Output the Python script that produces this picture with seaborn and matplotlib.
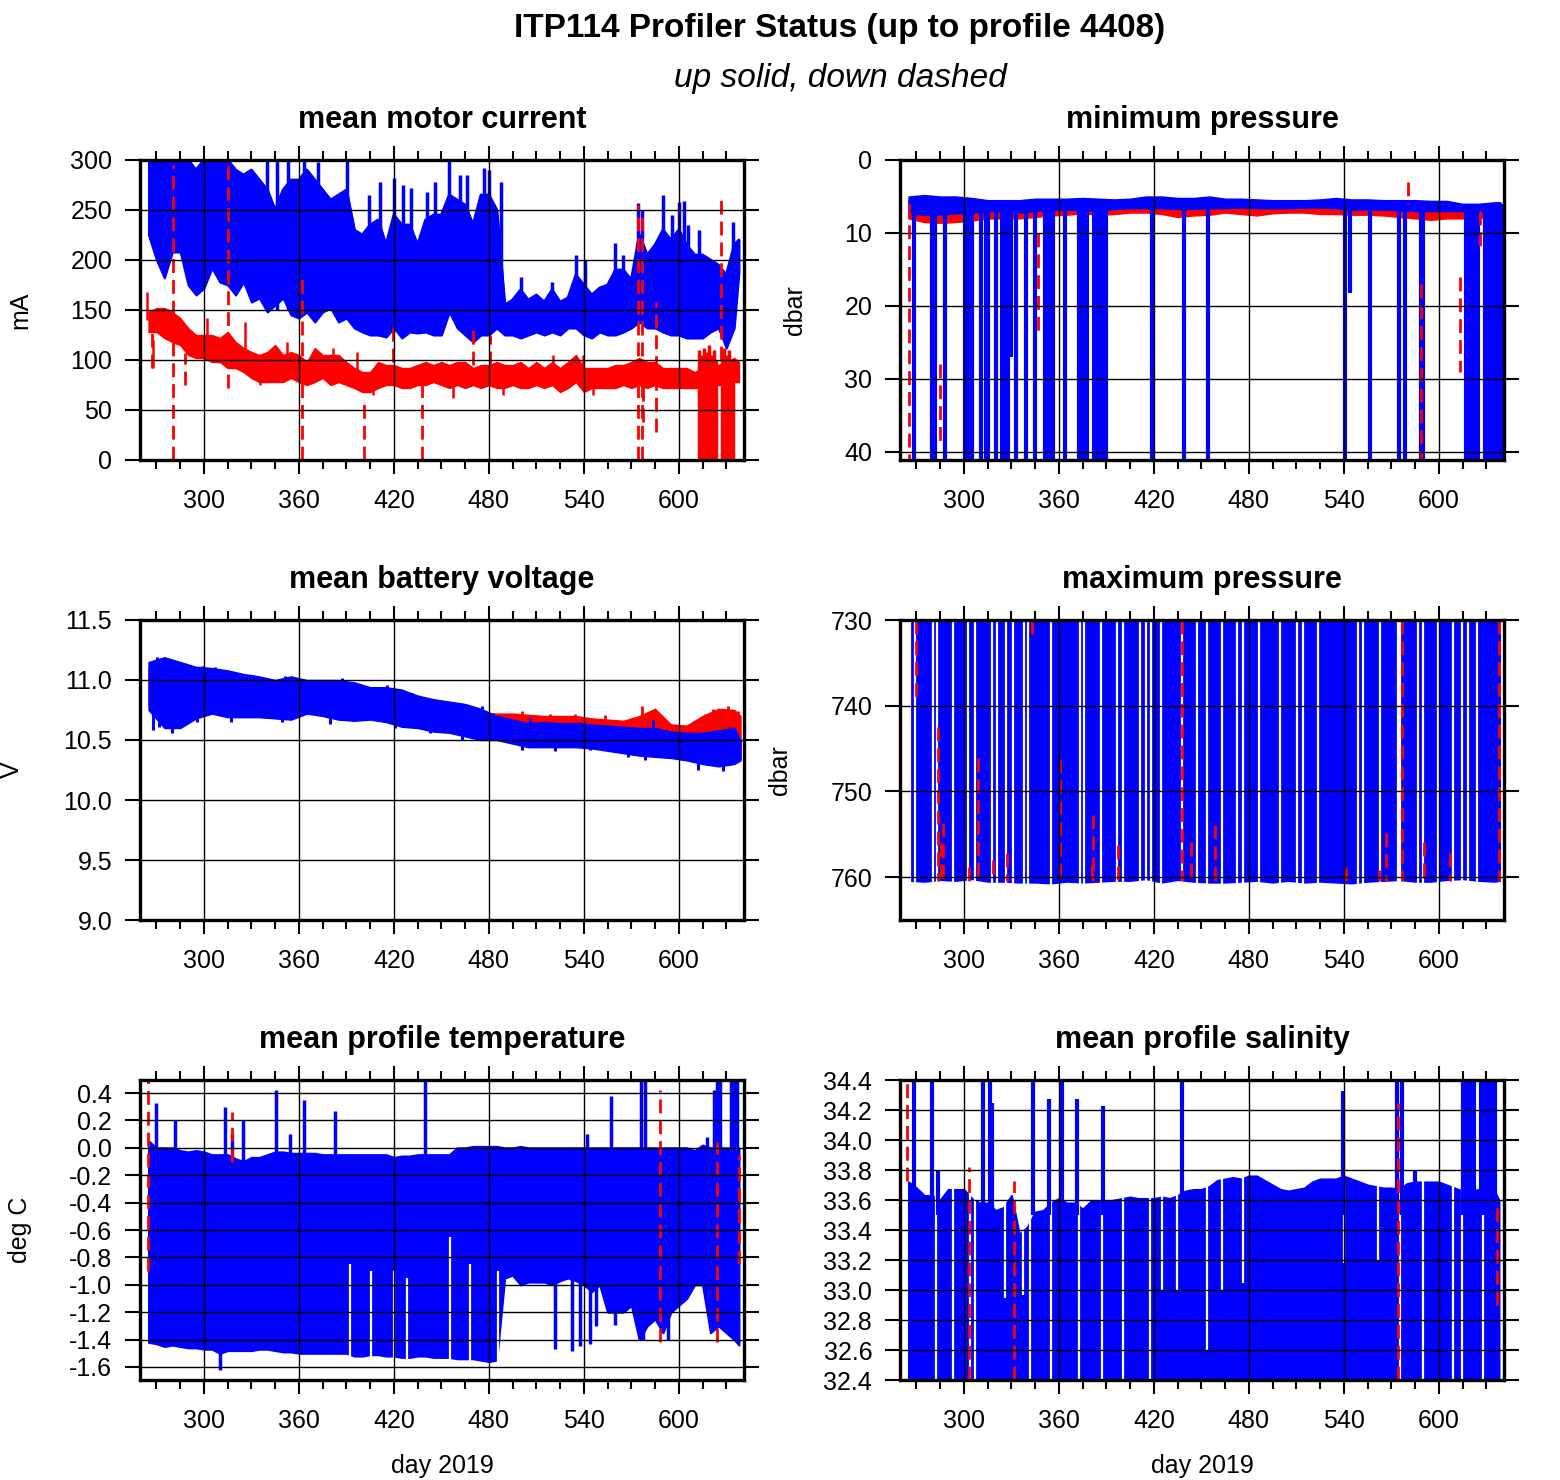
import matplotlib
matplotlib.use('Agg')
import matplotlib.pyplot as plt
import seaborn as sns
from matplotlib.ticker import MultipleLocator, FixedLocator, FormatStrFormatter

# ---------------- DATA ----------------
# sample days for the 5-day envelopes
days5 = [265, 270, 275, 280, 285, 290, 295, 300, 305, 310,
         315, 320, 325, 330, 335, 340, 345, 350, 355, 360,
         365, 370, 375, 380, 385, 390, 395, 400, 405, 410,
         415, 420, 425, 430, 435, 440, 445, 450, 455, 460,
         465, 470, 475, 480, 485, 490, 495, 500, 505, 510,
         515, 520, 525, 530, 535, 540, 545, 550, 555, 560,
         565, 570, 575, 580, 585, 590, 595, 600, 605, 610,
         615, 620, 625, 630, 635, 638]
# sample days for the 10-day envelopes
days10 = [265, 275, 285, 295, 305, 315, 325, 335, 345, 355,
          365, 375, 385, 395, 405, 415, 425, 435, 445, 455,
          465, 475, 485, 495, 505, 515, 525, 535, 545, 555,
          565, 575, 585, 595, 605, 615, 625, 635, 639]

# mean motor current (mA), up = blue band, down = red band
motor_up_hi = [300, 300, 300, 300, 300, 300, 290, 300, 300, 300,
               300, 290, 285, 290, 280, 270, 250, 270, 280, 280,
               290, 280, 270, 260, 265, 270, 230, 225, 235, 240,
               215, 245, 235, 235, 215, 240, 245, 245, 265, 260,
               255, 235, 265, 265, 250, 155, 160, 170, 160, 165,
               158, 170, 158, 162, 185, 175, 165, 172, 175, 190,
               190, 180, 225, 205, 215, 230, 220, 230, 215, 205,
               205, 200, 195, 185, 215, 220]
motor_up_lo = [225, 200, 182, 208, 208, 175, 165, 172, 192, 178,
               175, 165, 178, 158, 162, 148, 155, 162, 145, 142,
               148, 138, 148, 152, 138, 142, 132, 128, 125, 125,
               123, 132, 122, 128, 127, 128, 125, 125, 148, 132,
               125, 118, 125, 125, 132, 125, 125, 122, 125, 128,
               125, 128, 125, 132, 132, 125, 122, 128, 125, 125,
               128, 132, 138, 132, 132, 128, 125, 125, 122, 122,
               122, 128, 132, 112, 132, 188]
motor_dn_hi = [148, 152, 152, 148, 142, 132, 125, 125, 125, 122,
               128, 118, 112, 108, 105, 108, 115, 105, 108, 105,
               98, 112, 105, 105, 105, 98, 92, 88, 88, 98,
               95, 95, 92, 92, 95, 98, 95, 98, 95, 98,
               98, 92, 95, 95, 98, 95, 95, 98, 92, 98,
               92, 98, 92, 98, 105, 92, 92, 92, 92, 95,
               95, 98, 102, 98, 98, 92, 92, 92, 92, 88,
               92, 95, 95, 98, 102, 98]
motor_dn_lo = [128, 128, 122, 118, 115, 105, 102, 102, 98, 98,
               92, 92, 88, 82, 78, 78, 78, 78, 82, 78,
               75, 78, 82, 75, 78, 75, 72, 68, 68, 72,
               75, 75, 72, 72, 75, 75, 78, 75, 72, 75,
               72, 75, 72, 75, 72, 72, 75, 72, 72, 75,
               72, 75, 68, 72, 78, 68, 72, 72, 72, 72,
               75, 72, 75, 72, 75, 72, 72, 72, 72, 72,
               72, 72, 75, 75, 78, 78]
motor_up_spike_days = [340, 346, 353, 363, 372, 390.6, 404, 411, 420, 426,
                       431, 441, 446, 455, 462, 466, 477, 480, 487.5, 500,
                       520, 535, 541, 560, 565, 574, 577, 590, 596, 600,
                       603, 606, 613, 634]
motor_up_spike_tops = [300, 300, 300, 300, 298, 300, 265, 278, 282, 275,
                       272, 268, 278, 300, 285, 285, 292, 290, 278, 183,
                       178, 205, 200, 217, 205, 257, 250, 265, 245, 258,
                       259, 235, 230, 238]
motor_dn_spike_days = [267, 280.2, 288, 315.4, 362.1, 401.3, 419.6, 437.5,
                       470.1, 481, 574.2, 576.5, 577.5, 585.5, 626.4]
motor_dn_spike_lo = [92, 0, 75, 72, 0, 0, 98, 0, 95, 95, 0, 0, 38, 28, 100]
motor_dn_spike_hi = [140, 295, 107, 300, 185, 62, 138, 92, 132, 125, 255, 248, 100, 158, 262]
motor_dn_block_days = [613, 614.5, 616, 617.5, 619, 620.5, 622, 623.5,
                       627, 628.5, 630, 631.5, 633, 634.5]
motor_dn_block_hi = [110, 105, 112, 108, 115, 105, 110, 100, 108, 112, 105, 110, 100, 95]
# short noise excursions of the down-profile current
motor_dn_noise_days = [263.8, 268, 297.5, 301.7, 325.9, 335.4, 352.2, 381.7, 396.4, 407,
                       457.5, 489, 520.7, 539.6, 545.9]
motor_dn_noise_lo = [140, 92, 102, 120, 110, 75, 95, 92, 90, 65,
                     62, 65, 85, 85, 65]
motor_dn_noise_hi = [168, 120, 120, 142, 138, 95, 118, 112, 108, 85,
                     85, 85, 105, 105, 85]

# minimum pressure (dbar)
minp_up_top = [5.0, 4.8, 5.0, 5.0, 5.2, 5.5, 5.5, 5.5, 5.3, 5.3,
               5.3, 5.2, 5.3, 5.4, 5.3, 5.0, 5.0, 5.2, 5.2, 5.0,
               5.3, 5.3, 5.4, 5.5, 5.5, 5.5, 5.4, 5.2, 5.4, 5.4,
               5.5, 5.5, 5.5, 5.6, 5.6, 6.0, 6.0, 5.8, 5.8]
minp_up_bot = [7.3, 7.5, 7.5, 7.3, 7.2, 7.0, 7.0, 7.2, 7.0, 6.8,
               6.8, 6.9, 6.9, 6.7, 6.6, 6.6, 6.6, 6.7, 6.7, 6.6,
               6.6, 6.5, 6.6, 6.6, 6.6, 6.5, 6.5, 6.6, 6.8, 6.8,
               6.8, 6.9, 7.0, 7.0, 7.0, 7.0, 7.2, 7.0, 7.0]
minp_dn_top = [5.5, 5.5, 5.6, 5.8, 5.8, 6.0, 6.0, 6.0, 5.8, 5.8,
               5.8, 5.8, 5.8, 5.8, 5.8, 5.6, 5.6, 5.8, 5.8, 5.8,
               5.8, 5.8, 5.8, 5.8, 5.8, 5.8, 5.8, 5.8, 5.8, 5.8,
               5.8, 5.8, 6.0, 6.0, 6.0, 6.5, 6.5, 6.5, 6.5]
minp_dn_bot = [8.0, 8.5, 8.6, 8.5, 8.3, 8.0, 8.0, 8.0, 7.8, 7.6,
               7.5, 7.3, 7.5, 7.4, 7.2, 7.2, 7.4, 7.8, 7.6, 7.5,
               7.2, 7.4, 7.6, 7.3, 7.2, 7.2, 7.4, 7.4, 7.5, 7.5,
               7.6, 7.8, 8.0, 8.2, 8.0, 8.0, 8.0, 7.6, 7.6]
minp_up_spike_days = [268.4, 280.1, 281.7, 288.0, 300.6, 301.8, 303.0, 304.2, 305.4, 310.5,
                      313.7, 315.3, 320.0, 323.8, 325.0, 326.3, 327.9, 330.0, 332.6, 338.9,
                      345.2, 351.5, 352.7, 353.9, 355.1, 356.3, 363.6, 373.0, 374.2, 375.3,
                      377.6, 382.0, 384.8, 386.0, 387.2, 388.4, 389.6, 419.0, 439.0, 454.5,
                      540.8, 543.9, 556.6, 574.9, 578.7, 589.0, 590.2, 617.3, 618.5, 619.7,
                      620.9, 622.1, 623.3, 624.5, 629.3, 631.9, 633.1, 634.3, 635.5, 636.7,
                      637.9, 639.1]
minp_up_spike_depth = [41, 41, 41, 41, 41, 41, 30.5, 41, 41, 41,
                       41, 41, 41, 41, 41, 41, 41, 27, 41, 41,
                       41, 41, 41, 41, 41, 41, 41, 41, 41, 41,
                       41, 41, 41, 41, 41, 41, 41, 41, 41, 41,
                       41, 18.2, 41, 41, 41, 41, 41, 41, 41, 41,
                       41, 41, 41, 41, 41, 41, 41, 41, 41, 41,
                       41, 41]
minp_dn_spike_days = [265.2, 284.9, 346.8, 580.6, 588.8, 613.4, 626.0]
minp_dn_spike_top = [6, 28, 10, 3, 17, 16, 7]
minp_dn_spike_bot = [41.1, 39, 23.5, 6, 41.1, 29, 12]

# mean battery voltage (V)
batt_up_hi = [11.15, 11.19, 11.15, 11.11, 11.10, 11.08, 11.05, 11.03, 11.00, 11.03,
              11.00, 11.00, 11.00, 10.98, 10.94, 10.94, 10.92, 10.87, 10.84, 10.82,
              10.80, 10.76, 10.70, 10.67, 10.64, 10.65, 10.64, 10.64, 10.63, 10.62,
              10.61, 10.60, 10.60, 10.57, 10.56, 10.56, 10.58, 10.60, 10.50]
batt_up_lo = [10.75, 10.60, 10.60, 10.68, 10.72, 10.69, 10.69, 10.69, 10.68, 10.67,
              10.72, 10.70, 10.67, 10.66, 10.67, 10.65, 10.61, 10.60, 10.57, 10.56,
              10.53, 10.50, 10.50, 10.47, 10.44, 10.44, 10.44, 10.44, 10.43, 10.41,
              10.39, 10.37, 10.36, 10.35, 10.33, 10.30, 10.28, 10.30, 10.33]
batt_dn_hi = [11.10, 11.10, 11.08, 11.06, 11.05, 11.02, 11.00, 10.98, 10.98, 10.98,
              10.98, 10.96, 10.95, 10.94, 10.92, 10.90, 10.88, 10.84, 10.80, 10.78,
              10.76, 10.73, 10.72, 10.72, 10.71, 10.70, 10.70, 10.70, 10.68, 10.67,
              10.66, 10.70, 10.76, 10.63, 10.62, 10.70, 10.76, 10.75, 10.70]
batt_dn_lo = [10.80, 10.70, 10.70, 10.72, 10.75, 10.72, 10.72, 10.72, 10.72, 10.70,
              10.74, 10.72, 10.70, 10.70, 10.70, 10.68, 10.64, 10.62, 10.60, 10.58,
              10.56, 10.55, 10.55, 10.55, 10.55, 10.54, 10.54, 10.53, 10.52, 10.50,
              10.48, 10.46, 10.45, 10.44, 10.43, 10.42, 10.40, 10.38, 10.35]
# single-profile excursions of the battery voltage
batt_up_low_days = [267.5, 271.6, 280.1, 295.9, 317.0, 349.6, 379.6, 420.7, 442.8,
                    463.3, 501.2, 521.8, 543.9, 567.6, 578.7, 611.9, 627.7]
batt_up_low_vals = [10.58, 10.61, 10.56, 10.65, 10.65, 10.65, 10.63, 10.60, 10.56,
                    10.50, 10.42, 10.41, 10.42, 10.36, 10.33, 10.25, 10.24]
batt_up_high_days = [270.6, 278.5, 299.0, 306.9, 330.6, 351.2, 387.5, 415.9,
                     431.6, 458.5, 475.9, 505.9, 537.6, 583.4, 632.4]
batt_up_high_vals = [11.19, 11.17, 11.12, 11.11, 11.04, 11.03, 11.02, 10.96,
                     10.89, 10.81, 10.78, 10.68, 10.65, 10.67, 10.61]
batt_dn_high_days = [501.2, 518.6, 534.4, 553.3, 577.0, 616.6, 621.4, 630.8, 637.1]
batt_dn_high_vals = [10.74, 10.72, 10.72, 10.71, 10.78, 10.72, 10.76, 10.78, 10.74]

# maximum pressure (dbar); the shallow half of the profiles lies above 730
maxp_up_bot = [760.5, 760.6, 760.4, 760.5, 760.3, 760.6, 760.6, 760.7, 760.7, 760.8,
               760.6, 760.7, 760.6, 760.5, 760.5, 760.3, 760.7, 760.4, 760.6, 760.7,
               760.7, 760.6, 760.5, 760.7, 760.5, 760.7, 760.6, 760.7, 760.8, 760.6,
               760.5, 760.4, 760.6, 760.6, 760.4, 760.3, 760.5, 760.6, 760.5]
maxp_gap_days = [265.9, 269.0, 280.6, 282.7, 293.2, 302.7, 306.9, 317.5, 320.6, 326.5,
                 331.2, 338.1, 340.6, 355.0, 373.3, 376.0, 386.5, 396.5, 400.6, 411.2,
                 414.8, 418.1, 424.4, 437.5, 447.0, 453.3, 462.8, 472.7, 476.5, 486.6,
                 499.6, 510.6, 514.3, 523.8, 548.7, 552.2, 562.8, 574.0, 575.5, 587.0,
                 590.2, 599.6, 609.1, 614.4, 618.6, 623.9]
maxp_dn_days = [269.7, 283.5, 285.5, 286.6, 303.4, 308.9, 318.5, 327.4, 342.8, 360.7,
                380.9, 381.8, 397.6, 437.5, 443.4, 458.6, 541.3, 562.4, 566.6, 576.7,
                590.9, 607.1, 637.8]
maxp_dn_top = [730, 742.5, 756, 753.7, 758.8, 746.1, 758, 757.2, 730, 746.2,
               758.6, 752.8, 756.3, 730, 755.9, 753.9, 758.9, 759.2, 754.8, 730,
               755.9, 757.2, 730]
maxp_dn_bot = [739, 760.5, 760.5, 760.5, 760.5, 760.5, 760.5, 760.5, 732.3, 760.5,
               760.5, 760.5, 760.5, 760.5, 760.5, 760.5, 760.5, 760.5, 760.5, 760.5,
               760.5, 760.5, 760.5]

# mean profile temperature (deg C)
temp_up_top = [0.05, 0.00, 0.00, 0.00, -0.02, -0.03, -0.02, -0.03, -0.05, -0.05,
               -0.05, -0.08, -0.10, -0.07, -0.07, -0.05, -0.03, -0.03, -0.04, -0.04,
               -0.04, -0.04, -0.05, -0.05, -0.05, -0.05, -0.05, -0.05, -0.05, -0.05,
               -0.05, -0.07, -0.06, -0.06, -0.05, -0.05, -0.05, -0.05, -0.05, 0.00,
               0.00, 0.01, 0.01, 0.01, 0.01, 0.00, 0.00, 0.01, 0.00, 0.00,
               0.00, 0.00, 0.00, 0.00, 0.00, 0.00, 0.00, 0.00, 0.00, 0.00,
               0.00, 0.00, 0.00, 0.00, 0.00, 0.00, 0.00, 0.00, 0.00, -0.02,
               0.02, 0.00, 0.00, 0.00, 0.00, 0.00]
temp_up_bot = [-1.42, -1.43, -1.45, -1.44, -1.45, -1.46, -1.46, -1.47, -1.47, -1.50,
               -1.48, -1.48, -1.48, -1.48, -1.47, -1.47, -1.48, -1.49, -1.49, -1.50,
               -1.50, -1.50, -1.50, -1.50, -1.50, -1.50, -1.52, -1.52, -1.51, -1.51,
               -1.52, -1.52, -1.53, -1.53, -1.52, -1.52, -1.53, -1.53, -1.53, -1.54,
               -1.54, -1.54, -1.55, -1.56, -1.55, -0.95, -0.93, -1.00, -0.98, -0.98,
               -0.98, -1.00, -0.97, -0.95, -0.97, -1.00, -1.05, -1.00, -1.20, -1.20,
               -1.20, -1.15, -1.40, -1.30, -1.25, -1.35, -1.20, -1.15, -1.10, -1.00,
               -1.00, -1.35, -1.30, -1.35, -1.40, -1.44]
temp_up_spike_days = [269.6, 281.6, 313.2, 317.6, 324.6, 345.5, 354.3, 363.5, 382.7, 439.6,
                      541.9, 557.0, 576.0, 578.5, 617.7, 622.5, 624.0, 626.0, 633.0, 635.0,
                      637.0]
temp_up_spike_tops = [0.33, 0.20, 0.30, 0.10, 0.20, 0.42, 0.10, 0.35, 0.27, 0.50,
                      0.10, 0.38, 0.50, 0.50, 0.08, 0.42, 0.50, 0.50, 0.50, 0.50,
                      0.50]
temp_up_low_days = [310.0, 521.8, 532.8, 537.6, 543.9, 548.0, 560.0, 575.5, 577.5, 593.0]
temp_up_low_vals = [-1.62, -1.47, -1.48, -1.45, -1.43, -1.30, -1.29, -1.40, -1.40, -1.40]
temp_gap_days = [392.5, 405.5, 420.0, 428.0, 455.5, 468.0, 486.0]
temp_gap_tops = [-0.85, -0.90, -0.90, -0.95, -0.65, -0.85, -0.90]
temp_dn_days = [264.6, 317.6, 588.2, 624.0, 638.0]
temp_dn_lo = [-0.90, -0.10, -1.42, -1.42, -0.85]
temp_dn_hi = [0.50, 0.26, 0.42, 0.04, -0.05]

# mean profile salinity; the deep half of the band lies below 32.4
sal_up_top = [33.72, 33.68, 33.63, 33.63, 33.60, 33.67, 33.67, 33.67, 33.61, 33.58,
              33.58, 33.53, 33.55, 33.63, 33.37, 33.42, 33.52, 33.53, 33.58, 33.61,
              33.58, 33.58, 33.54, 33.59, 33.59, 33.59, 33.60, 33.61, 33.62, 33.61,
              33.61, 33.61, 33.62, 33.61, 33.63, 33.66, 33.67, 33.67, 33.69, 33.73,
              33.74, 33.75, 33.74, 33.76, 33.76, 33.73, 33.70, 33.67, 33.66, 33.67,
              33.68, 33.72, 33.74, 33.74, 33.74, 33.76, 33.74, 33.72, 33.70, 33.69,
              33.68, 33.68, 33.67, 33.71, 33.72, 33.72, 33.72, 33.72, 33.70, 33.68,
              33.66, 33.66, 33.67, 33.66, 33.66, 33.60]
sal_up_spike_days = [268.4, 280.0, 283.8, 312.2, 316.4, 317.9, 343.8, 353.9, 361.7, 371.2,
                     388.0, 437.5, 539.2, 573.3, 576.5, 584.9]
sal_up_spike_tops = [34.4, 34.4, 33.8, 34.4, 34.4, 34.25, 34.4, 34.27, 34.4, 34.27,
                     34.23, 34.4, 34.33, 34.4, 34.4, 33.8]
sal_block_days = [615.5, 616.5, 617.5, 618.5, 619.5, 620.5, 621.5, 622.2,
                  626.8, 627.8, 628.8, 629.8, 630.8, 631.8, 632.8, 633.8, 634.8, 635.5]
sal_block_tops = [34.4, 34.4, 34.4, 34.4, 34.4, 34.4, 34.4, 34.4,
                  34.4, 34.4, 34.4, 34.4, 34.4, 34.4, 34.4, 34.4, 34.4, 34.4]
sal_gap_days = [282.1, 293.3, 303.6, 306.9, 325.9, 337.5, 341.7, 355.0, 372.9, 387.0,
                400.6, 417.5, 424.9, 434.4, 453.7, 462.8, 476.5, 539.8, 561.7, 575.4,
                589.8, 609.1, 614.4, 628.0]
sal_gap_lows = [32.4, 32.4, 32.4, 32.4, 32.95, 32.97, 32.4, 32.4, 32.4, 32.4,
                32.4, 32.4, 33.0, 33.0, 32.6, 33.0, 33.05, 33.18, 33.2, 32.4,
                32.4, 32.4, 32.4, 32.4]
sal_dn_days = [264.0, 303.0, 331.5, 574.5, 636.9]
sal_dn_lo = [33.73, 32.4, 32.4, 32.4, 32.9]
sal_dn_hi = [34.4, 33.82, 33.73, 34.25, 33.6]

for name, arr in [('motor_up_hi', motor_up_hi), ('motor_up_lo', motor_up_lo),
                  ('motor_dn_hi', motor_dn_hi), ('motor_dn_lo', motor_dn_lo),
                  ('temp_up_top', temp_up_top), ('temp_up_bot', temp_up_bot),
                  ('sal_up_top', sal_up_top)]:
    assert len(arr) == len(days5), name
for name, arr in [('minp_up_top', minp_up_top), ('minp_up_bot', minp_up_bot),
                  ('minp_dn_top', minp_dn_top), ('minp_dn_bot', minp_dn_bot),
                  ('batt_up_hi', batt_up_hi), ('batt_up_lo', batt_up_lo),
                  ('batt_dn_hi', batt_dn_hi), ('batt_dn_lo', batt_dn_lo),
                  ('maxp_up_bot', maxp_up_bot)]:
    assert len(arr) == len(days10), name

BLUE = '#0000ff'
RED = '#ff0000'
DASH = (0, (5, 2.5))

# ---------------- STYLE ----------------
sns.set_theme(style='ticks')
plt.rcParams['font.family'] = ['Liberation Sans', 'DejaVu Sans']
plt.rcParams['axes.unicode_minus'] = False
plt.rcParams['text.color'] = 'black'
plt.rcParams['axes.labelcolor'] = 'black'
plt.rcParams['xtick.color'] = 'black'
plt.rcParams['ytick.color'] = 'black'

fig = plt.figure(figsize=(15.6, 14.8), dpi=100)

W, H = 1560.0, 1480.0
col_x = [140, 900]
row_y = [160, 620, 1080]
AW, AH = 604, 300


def make_axes(col, row):
    x0, y0 = col_x[col], row_y[row]
    return fig.add_axes([x0 / W, 1 - (y0 + AH) / H, AW / W, AH / H])


def style(ax, title, ylabel, ylim, yticks, fmt, label_px):
    ax.set_xlim(259.6, 641.2)
    ax.set_ylim(*ylim)
    ax.xaxis.set_major_locator(MultipleLocator(60))
    ax.xaxis.set_minor_locator(MultipleLocator(15))
    ax.yaxis.set_major_locator(FixedLocator(yticks))
    ax.yaxis.set_major_formatter(FormatStrFormatter(fmt))
    ax.tick_params(axis='x', which='major', direction='out', length=10, width=1.5,
                   top=True, bottom=True, labelsize=18, pad=11, colors='black')
    ax.tick_params(axis='x', which='minor', direction='out', length=6.5, width=1.5,
                   top=True, bottom=True, colors='black')
    ax.tick_params(axis='y', which='major', direction='out', length=11, width=1.5,
                   left=True, right=True, labelsize=18, pad=9, colors='black')
    ax.grid(True, which='major', color='black', linewidth=1.0)
    ax.set_axisbelow(False)
    for sp in ax.spines.values():
        sp.set_linewidth(2.4)
        sp.set_color('black')
        sp.set_zorder(5)
    ax.set_facecolor('white')
    ax.text(0.5, 1 + 40.0 / AH, title, transform=ax.transAxes, ha='center', va='center',
            fontsize=22, fontweight='bold', color='black')
    ax.text(label_px / AW, 0.5, ylabel, transform=ax.transAxes, rotation=90,
            ha='center', va='center', fontsize=18, color='black')


def spikes(ax, x, lo, hi, color, lw=2.5, dashed=False, z=1.6):
    ax.vlines(x, lo, hi, colors=color, linewidth=lw,
              linestyles=DASH if dashed else 'solid', zorder=z)


# ---- mean motor current ----
ax = make_axes(0, 0)
ax.fill_between(days5, motor_dn_lo, motor_dn_hi, color=RED, lw=1, zorder=1.1)
spikes(ax, motor_dn_noise_days, motor_dn_noise_lo, motor_dn_noise_hi, RED, lw=1.8, z=1.15)
ax.fill_between(days5, motor_up_lo, motor_up_hi, color=BLUE, lw=1.5, zorder=1.3)
sns.lineplot(x=days5, y=motor_up_hi, color=BLUE, lw=2, ax=ax, zorder=1.3)
spikes(ax, motor_up_spike_days, [150] * len(motor_up_spike_days), motor_up_spike_tops, BLUE)
spikes(ax, motor_dn_block_days, [0] * len(motor_dn_block_days), motor_dn_block_hi, RED, lw=2.5)
spikes(ax, motor_dn_spike_days, motor_dn_spike_lo, motor_dn_spike_hi, RED, lw=2, dashed=True, z=1.7)
style(ax, 'mean motor current', 'mA', (0, 300), [0, 50, 100, 150, 200, 250, 300], '%d', -120)

# ---- minimum pressure ----
ax = make_axes(1, 0)
ax.fill_between(days10, minp_dn_top, minp_dn_bot, color=RED, lw=1, zorder=1.1)
ax.fill_between(days10, minp_up_top, minp_up_bot, color=BLUE, lw=1, zorder=1.3)
spikes(ax, minp_up_spike_days, [6] * len(minp_up_spike_days), minp_up_spike_depth, BLUE, lw=3)
spikes(ax, minp_dn_spike_days, minp_dn_spike_top, minp_dn_spike_bot, RED, lw=2, dashed=True, z=1.7)
style(ax, 'minimum pressure', 'dbar', (41.1, 0), [0, 10, 20, 30, 40], '%d', -105)

# ---- mean battery voltage ----
ax = make_axes(0, 1)
ax.fill_between(days10, batt_dn_lo, batt_dn_hi, color=RED, lw=1, zorder=1.1)
spikes(ax, batt_dn_high_days, [v - 0.1 for v in batt_dn_high_vals], batt_dn_high_vals, RED, lw=2, z=1.15)
ax.fill_between(days10, batt_up_lo, batt_up_hi, color=BLUE, lw=1, zorder=1.3)
spikes(ax, batt_up_low_days, batt_up_low_vals, [v + 0.15 for v in batt_up_low_vals], BLUE, lw=2.2)
spikes(ax, batt_up_high_days, [v - 0.15 for v in batt_up_high_vals], batt_up_high_vals, BLUE, lw=2.2)
style(ax, 'mean battery voltage', 'V', (9.0, 11.5), [9.0, 9.5, 10.0, 10.5, 11.0, 11.5], '%.1f', -128)

# ---- maximum pressure ----
ax = make_axes(1, 1)
ax.fill_between(days10, maxp_up_bot, [730] * len(days10), color=BLUE, lw=0, zorder=1.3)
spikes(ax, maxp_gap_days, [729] * len(maxp_gap_days), [761.5] * len(maxp_gap_days), 'white', lw=1.6, z=1.4)
spikes(ax, maxp_dn_days, maxp_dn_top, maxp_dn_bot, RED, lw=2, dashed=True, z=1.7)
style(ax, 'maximum pressure', 'dbar', (765, 730), [730, 740, 750, 760], '%d', -120)

# ---- mean profile temperature ----
ax = make_axes(0, 2)
ax.fill_between(days5, temp_up_bot, temp_up_top, color=BLUE, lw=1.5, zorder=1.3)
spikes(ax, temp_gap_days, [-1.6] * len(temp_gap_days), temp_gap_tops, 'white', lw=1.6, z=1.4)
spikes(ax, temp_up_spike_days, [-0.1] * len(temp_up_spike_days), temp_up_spike_tops, BLUE)
spikes(ax, temp_up_low_days, [-0.9] * len(temp_up_low_days), temp_up_low_vals, BLUE)
spikes(ax, temp_dn_days, temp_dn_lo, temp_dn_hi, RED, lw=2, dashed=True, z=1.7)
style(ax, 'mean profile temperature', 'deg C', (-1.695, 0.495),
      [-1.6, -1.4, -1.2, -1.0, -0.8, -0.6, -0.4, -0.2, 0.0, 0.2, 0.4], '%.1f', -120)

# ---- mean profile salinity ----
ax = make_axes(1, 2)
ax.fill_between(days5, [32.0] * len(days5), sal_up_top, color=BLUE, lw=1.5, zorder=1.3)
spikes(ax, sal_gap_days, sal_gap_lows, [34.5] * len(sal_gap_days), 'white', lw=1.6, z=1.4)
spikes(ax, sal_up_spike_days, [33.5] * len(sal_up_spike_days), sal_up_spike_tops, BLUE, lw=3)
spikes(ax, sal_block_days, [33.5] * len(sal_block_days), sal_block_tops, BLUE, lw=3)
spikes(ax, sal_dn_days, sal_dn_lo, sal_dn_hi, RED, lw=2, dashed=True, z=1.7)
style(ax, 'mean profile salinity', '', (32.4, 34.4),
      [32.4, 32.6, 32.8, 33.0, 33.2, 33.4, 33.6, 33.8, 34.0, 34.2, 34.4], '%.1f', -120)

# ---- figure texts ----
fig.text(840 / W, 1 - 28 / H, 'ITP114 Profiler Status (up to profile 4408)',
         ha='center', va='center', fontsize=24, fontweight='bold')
fig.text(840 / W, 1 - 78 / H, 'up solid, down dashed',
         ha='center', va='center', fontsize=24, fontstyle='italic')
for cx in (442, 1202):
    fig.text(cx / W, 1 - 1466 / H, 'day 2019', ha='center', va='center', fontsize=18)

fig.savefig('out.png', dpi=100)
